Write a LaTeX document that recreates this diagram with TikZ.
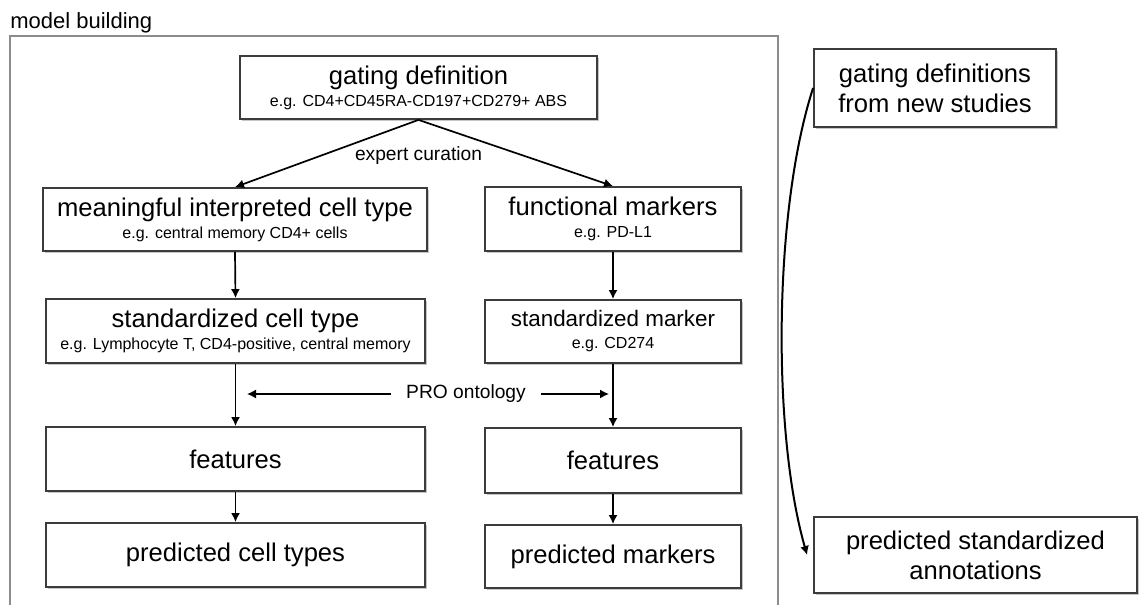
\documentclass[tikz,border=0pt]{standalone}
\usepackage{fontspec}
\setmainfont{Liberation Sans}
\usepackage{xcolor}
\usepackage{tikz}
\usetikzlibrary{arrows.meta,shadows}
\definecolor{framegray}{RGB}{140,140,140}
\definecolor{boxgray}{RGB}{60,60,60}

\newcommand{\bigtxt}{\fontsize{12.8}{11}\selectfont}
\newcommand{\smalltxt}{\fontsize{8}{10}\selectfont}

\begin{document}
\begin{tikzpicture}[x=0.5pt, y=-0.5pt,
  flowbox/.style={draw=boxgray, line width=0.9pt, fill=white, rectangle, align=center, font=\bigtxt, inner sep=0pt,
    drop shadow={shadow xshift=0.9pt, shadow yshift=-0.9pt, fill=black!45, opacity=0.5}},
  arr/.style={-{Latex[length=4.5pt,width=4.5pt]}, line width=0.85pt}]
\useasboundingbox (0,0) rectangle (1140,605);

% Model building frame
\draw[framegray, line width=0.9pt] (10,605) -- (10,36) -- (778,36) -- (778,605);
\node[anchor=base west, inner sep=0pt, font=\fontsize{11}{13}\selectfont] (title) at (10,28) {model building};

% Gating definition
\node[flowbox, minimum width=178.5pt, minimum height=31.5pt] (gate) at (418.5,87.5) {gating definition\\{\smalltxt e.g. CD4+CD45RA-CD197+CD279+ ABS}};

% Cell type branch
\node[flowbox, minimum width=192pt, minimum height=31.5pt] (meaning) at (235,219.5) {meaningful interpreted cell type\\{\smalltxt e.g. central memory CD4+ cells}};
\node[flowbox, minimum width=189.5pt, minimum height=32pt] (stdcell) at (235.5,331) {standardized cell type\\{\smalltxt e.g. Lymphocyte T, CD4-positive, central memory}};
\node[flowbox, minimum width=189.5pt, minimum height=32pt] (featL) at (235.5,459) {features};
\node[flowbox, minimum width=189.5pt, minimum height=32pt] (predL) at (235.5,555) {predicted cell types};

% Marker branch
\node[flowbox, minimum width=128pt, minimum height=32pt] (func) at (613,219) {functional markers\\{\smalltxt e.g. PD-L1}};
\node[flowbox, minimum width=128pt, minimum height=31.5pt] (stdmark) at (613,331.5) {{\fontsize{11.2}{11}\selectfont standardized marker}\\{\smalltxt e.g. CD274}};
\node[flowbox, minimum width=128pt, minimum height=32.5pt] (featR) at (613,460.5) {features};
\node[flowbox, minimum width=128pt, minimum height=31.5pt] (predR) at (613,556.5) {predicted markers};

% New studies
\node[flowbox, font=\fontsize{12.8}{15}\selectfont, minimum width=121pt, minimum height=39pt] (newgate) at (935,88) {gating definitions\\from new studies};
\node[flowbox, font=\fontsize{12.8}{15}\selectfont, minimum width=161.5pt, minimum height=38pt] (predann) at (975.5,555) {predicted standardized\\annotations};

% Curation arrows
\draw[arr] (gate.south) -- (meaning.north);
\draw[arr] (gate.south) -- (func.north);
\node[anchor=base, font=\fontsize{9.6}{11}\selectfont] (curation) at (418.5,160) {expert curation};

\draw[arr] (meaning.south) -- (stdcell.north);
\draw[arr] (func.south) -- (stdmark.north);
\draw[arr] (stdcell.south) -- (featL.north);
\draw[arr] (stdmark.south) -- (featR.north);
\draw[arr] (featL.south) -- (predL.north);
\draw[arr] (featR.south) -- (predR.north);

% PRO ontology
\node[inner xsep=7.5pt, font=\fontsize{9.6}{11}\selectfont] (pro) at (466,394) {PRO ontology};
\coordinate (proL) at (247,394);
\coordinate (proR) at (609,394);
\draw[arr, line width=0.7pt] (pro) -- (proL);
\draw[arr, line width=0.7pt] (pro) -- (proR);

% Prediction for new studies
\draw[arr, line width=1pt] (newgate.west) to[out=-108, in=106, looseness=0.7] ([xshift=-3pt]predann.west);
\end{tikzpicture}
\end{document}
